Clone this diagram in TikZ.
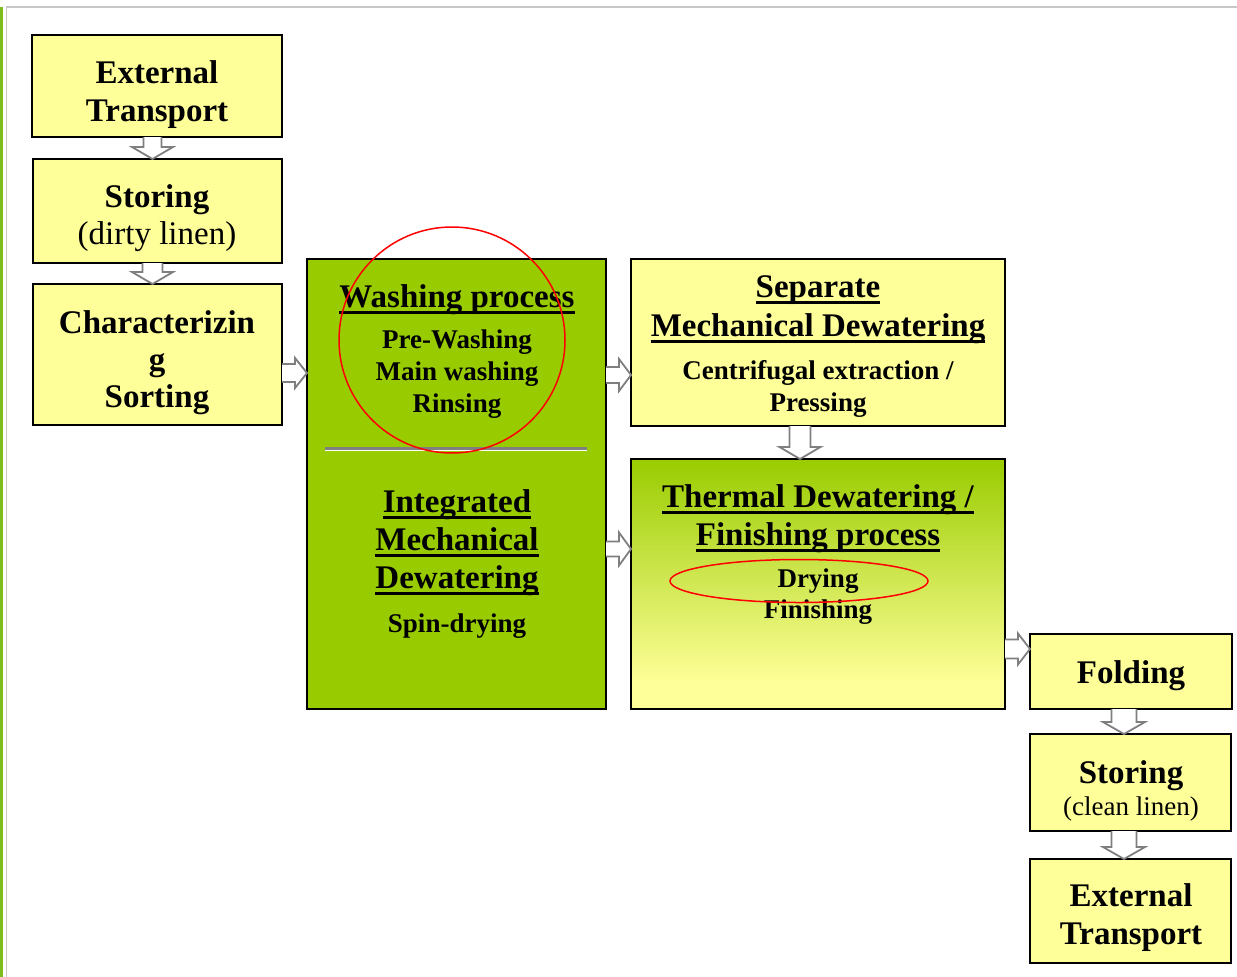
\documentclass[tikz,border=0pt]{standalone}
\usepackage{fontspec}
\setmainfont{Liberation Serif}
\usetikzlibrary{calc}
\definecolor{yel}{HTML}{FFFF99}
\definecolor{grn}{HTML}{99CC00}
\definecolor{arrgray}{HTML}{7F7F7F}
\definecolor{framegray}{HTML}{C8C8C8}
\definecolor{stripe}{HTML}{7DBE1E}
\definecolor{sepgray}{HTML}{808080}
\pgfdeclareverticalshading{thermshade}{100bp}{color(0bp)=(yel); color(30bp)=(yel); color(75bp)=(grn); color(100bp)=(grn)}
\newsavebox\myulbox
\newcommand\myul[1]{\sbox\myulbox{#1}\rlap{\rule[-7pt]{\wd\myulbox}{3pt}}\usebox\myulbox}
% right block arrow: src, tgt, y, shaft half, head half
\newcommand\rarr[5]{%
 \draw[blockarr] let \p1=(#1.east |- 0,#3), \p2=(#2.west |- 0,#3) in
 (\x1,\y1+#4pt) -- (\x2-12pt,\y1+#4pt) -- (\x2-12pt,\y1+#5pt) -- (\x2,\y1)
 -- (\x2-12pt,\y1-#5pt) -- (\x2-12pt,\y1-#4pt) -- (\x1,\y1-#4pt);}
% down block arrow: src, tgt, x, shaft half, head half
\newcommand\darr[5]{%
 \draw[blockarr] let \p1=(#3,0 |- #1.south), \p2=(#3,0 |- #2.north) in
 (\x1-#4pt,\y1) -- (\x1-#4pt,\y2+12pt) -- (\x1-#5pt,\y2+12pt) -- (\x1,\y2)
 -- (\x1+#5pt,\y2+12pt) -- (\x1+#4pt,\y2+12pt) -- (\x1+#4pt,\y1);}
\begin{document}
\begin{tikzpicture}[x=1pt,y=-1pt,
 box/.style={draw=black, line width=1.6pt, inner sep=0pt, outer sep=0pt},
 ybox/.style={box, fill=yel},
 gbox/.style={box, fill=grn},
 txt/.style={inner sep=0pt, outer sep=0pt, align=center, anchor=base},
 big/.style={font=\fontsize{33}{38}\selectfont\bfseries},
 bigr/.style={font=\fontsize{33}{37}\selectfont},
 small/.style={font=\fontsize{27}{32}\selectfont\bfseries},
 smallr/.style={font=\fontsize{27}{32}\selectfont},
 blockarr/.style={draw=arrgray, fill=white, line width=1.8pt, line join=miter}]
\useasboundingbox (0,0) rectangle (1237,977);
% frame
\draw[stripe, line width=3pt] (1.5,7) -- (1.5,977);
\draw[framegray, line width=1.5pt] (6.5,977) -- (6.5,7) -- (1237,7);

% boxes
\node[ybox, minimum width=250pt, minimum height=102pt] (b1) at (157,86) {};
\node[ybox, minimum width=249pt, minimum height=104pt] (b2) at (157.5,211) {};
\node[ybox, minimum width=249pt, minimum height=141pt] (b3) at (157.5,354.5) {};
\node[gbox, minimum width=299pt, minimum height=450pt] (wash) at (456.5,484) {};
\node[ybox, minimum width=374pt, minimum height=167pt] (sep) at (818,342.5) {};
\node[box, shading=thermshade, minimum width=374pt, minimum height=250pt] (therm) at (818,584) {};
\node[ybox, minimum width=202pt, minimum height=75pt] (fold) at (1131,671.5) {};
\node[ybox, minimum width=201pt, minimum height=97pt] (st2) at (1130.5,782.5) {};
\node[ybox, minimum width=201pt, minimum height=104pt] (ext2) at (1130.5,911) {};

% separator in washing box
\draw[sepgray, line width=3pt] (325,448) -- (587,448);
\draw[white, line width=1pt] (325,450.5) -- (587,450.5);

% arrows
\darr{b1}{b2}{152.5}{9}{20.5}
\darr{b2}{b3}{152.5}{10}{20.5}
\rarr{b3}{wash}{373}{9}{15}
\rarr{wash}{sep}{375}{8}{16}
\rarr{wash}{therm}{549}{7.5}{16.5}
\darr{sep}{therm}{800}{10.5}{20.5}
\rarr{therm}{fold}{649}{9.5}{15.5}
\darr{fold}{st2}{1124}{12.5}{21}
\darr{st2}{ext2}{1124}{12.5}{21}

% texts (base anchor = baseline of last line)
\node[txt, big] (b1t) at (157,121) {External\\Transport};
\node[txt, big] (b2t) at (157,207) {Storing};
\node[txt, bigr] (b2s) at (157,244) {(dirty linen)};
\node[txt, font=\fontsize{33}{37}\selectfont\bfseries] (b3t) at (157,407) {Characterizin\\g\\Sorting};
\node[txt, big] (washt) at (457,307) {\myul{Washing process}};
\node[txt, small] (washs) at (457,412) {Pre-Washing\\Main washing\\Rinsing};
\node[txt, big] (integt) at (457,588) {\myul{Integrated}\\\myul{Mechanical}\\\myul{Dewatering}};
\node[txt, small] (integs) at (457,632) {Spin-drying};
\node[txt, font=\fontsize{33}{39}\selectfont\bfseries] (sept) at (818,336) {\myul{Separate}\\\myul{Mechanical Dewatering}};
\node[txt, small] (seps) at (818,411) {Centrifugal extraction /\\Pressing};
\node[txt, big] (thermt) at (818,545) {\myul{Thermal Dewatering /}\\\myul{Finishing process}};
\node[txt, font=\fontsize{27}{30.5}\selectfont\bfseries] (therms) at (818,618) {Drying\\Finishing};
\node[txt, big] (foldt) at (1131,683) {Folding};
\node[txt, big] (st2t) at (1131,783) {Storing};
\node[txt, smallr] (st2s) at (1131,815) {(clean linen)};
\node[txt, big] (ext2t) at (1131,944) {External\\Transport};

% red marks
\draw[red, line width=1.5pt] (452,340) circle[radius=113pt];
\draw[red, line width=1.5pt] (799,581) ellipse[x radius=129pt, y radius=21.5pt];
\end{tikzpicture}
\end{document}
